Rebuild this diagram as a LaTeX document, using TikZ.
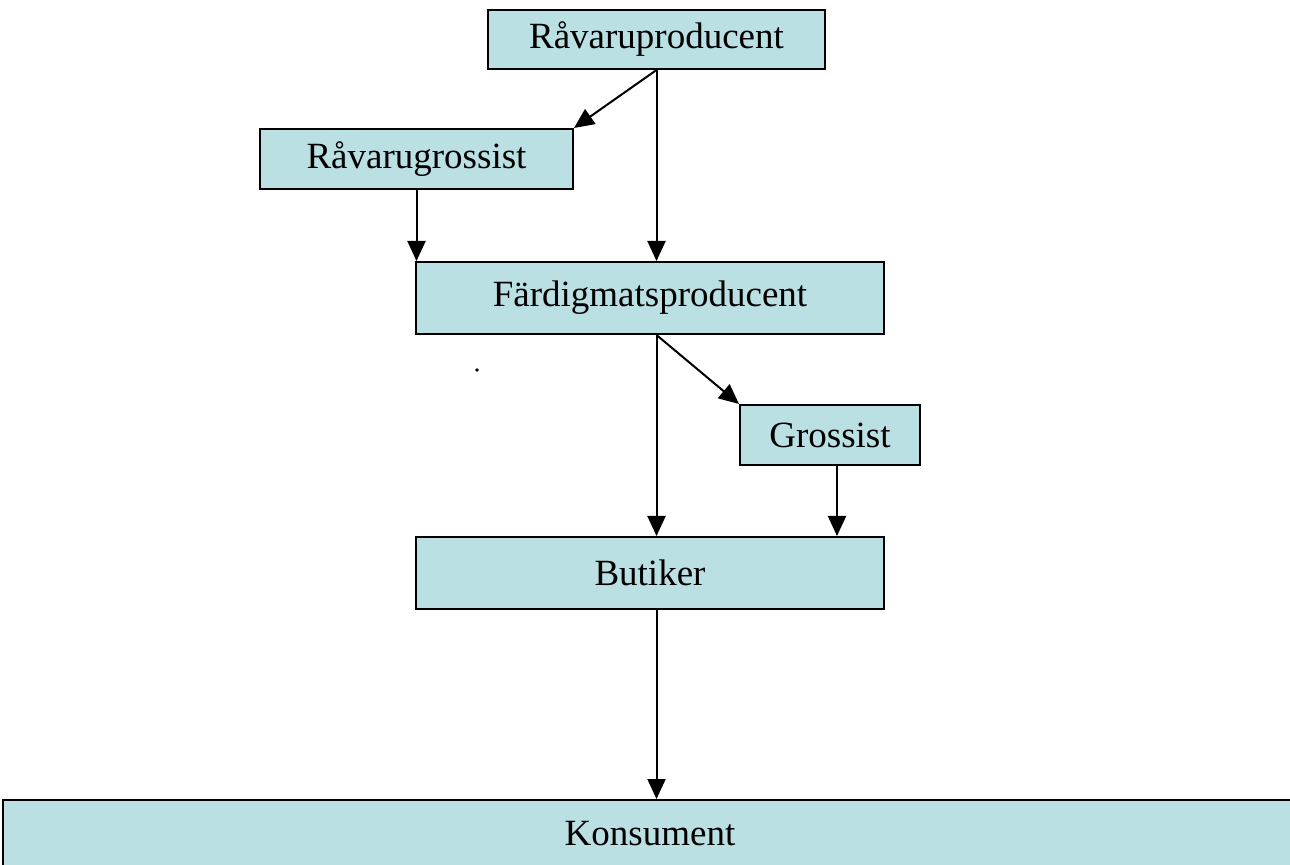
\documentclass[tikz,border=0pt]{standalone}
\usepackage{fontspec}
\setmainfont{Liberation Serif}
\usetikzlibrary{arrows.meta,calc}
\definecolor{boxfill}{RGB}{186,224,227}
\tikzset{
  flowbox/.style={draw=black, fill=boxfill, line width=1pt, inner sep=0pt,
    font=\fontsize{18.5pt}{22pt}\selectfont, anchor=center},
  flow/.style={line width=1pt, -{Triangle[length=10pt,width=9pt]}}
}
\begin{document}
\begin{tikzpicture}[x=0.5pt,y=-0.5pt]
  \useasboundingbox (0,0) rectangle (1290,865);
  \clip (0,0) rectangle (1290,865);
  % boxes of the supply chain
  \node[flowbox, minimum width=168.5pt, minimum height=29.5pt] (rp) at (656.5,39.5) {Råvaruproducent};
  \node[flowbox, minimum width=156.5pt, minimum height=30pt] (rg) at (416.5,159) {Råvarugrossist};
  \node[flowbox, minimum width=234pt, minimum height=36pt] (fp) at (650,298) {Färdigmatsproducent};
  \node[flowbox, minimum width=90pt, minimum height=30pt] (gr) at (830,435) {Grossist};
  \node[flowbox, minimum width=234pt, minimum height=36pt] (bu) at (650,573) {Butiker};
  \node[flowbox, minimum width=660pt, minimum height=36pt] (ko) at (663,836) {};
  \node[font=\fontsize{18.5pt}{22pt}\selectfont] (kotext) at (650,834) {Konsument};
  % flows between the boxes
  \draw[flow] (rp.south) -- (rg.north east);
  \draw[flow] (rp.south) -- (rp.south |- fp.north);
  \draw[flow] (rg.south) -- (rg.south |- fp.north);
  \coordinate (fpout) at (rp.south |- fp.south);
  \draw[flow] (fpout) -- (gr.north west);
  \draw[flow] (fpout) -- (fpout |- bu.north);
  \coordinate (grout) at ($(gr.south)+(7,0)$);
  \draw[flow] (grout) -- (grout |- bu.north);
  \coordinate (buout) at (rp.south |- bu.south);
  \draw[flow] (buout) -- (buout |- ko.north);
  % stray point mark
  \fill (477,370) circle (0.9pt);
\end{tikzpicture}
\end{document}
